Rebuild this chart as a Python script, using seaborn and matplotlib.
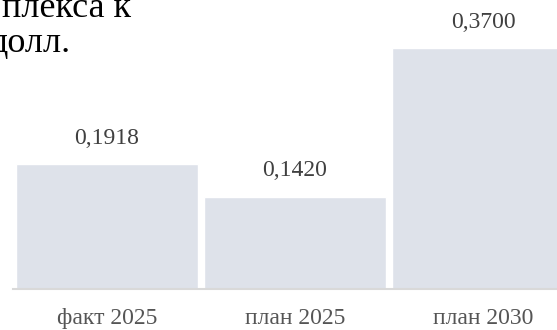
import pandas as pd
import matplotlib
matplotlib.use('Agg')
import matplotlib.pyplot as plt
import seaborn as sns

# данные
categories = ['факт 2025', 'план 2025', 'план 2030']
values = [0.1918, 0.1420, 0.3700]
title_lines = ['плекса к', 'долл.']

sns.set_style('white')
plt.rcParams['font.family'] = ['Liberation Serif', 'DejaVu Serif']

df = pd.DataFrame({'cat': categories, 'val': values})

W, H = 557, 330
fig = plt.figure(figsize=(W / 100, H / 100), dpi=100)

# оси в пикселях: база на y=289, левый край на x=13
base_px = 289
top_bar_px = 48
ax = fig.add_axes([13 / W, (H - base_px) / H, (W - 13) / W, base_px / H])

sns.barplot(data=df, x='cat', y='val', color='#dee2ea', saturation=1,
            width=0.968, ax=ax)

ax.set_xlim(-0.5, (W - 107) / 188)
ax.set_ylim(0, max(values) * base_px / (base_px - top_bar_px))

# подписи значений
labels = [f'{v:.4f}'.replace('.', ',') for v in values]
ax.bar_label(ax.containers[0], labels=labels, padding=11, fontsize=17,
             color='#404040')

for s in ['top', 'left', 'right']:
    ax.spines[s].set_visible(False)
ax.spines['bottom'].set_color('#d9d9d9')
ax.spines['bottom'].set_linewidth(1.5)
ax.set_yticks([])
ax.set_xlabel('')
ax.set_ylabel('')
ax.tick_params(axis='x', length=0, pad=14, labelsize=17, labelcolor='#555555')

# заголовок (обрезан слева)
fig.text(131 / W, 1 - 17 / H, title_lines[0], ha='right', va='baseline',
         fontsize=26, color='black')
fig.text(71 / W, 1 - 52 / H, title_lines[1], ha='right', va='baseline',
         fontsize=26, color='black')

fig.savefig('out.png', dpi=100)
